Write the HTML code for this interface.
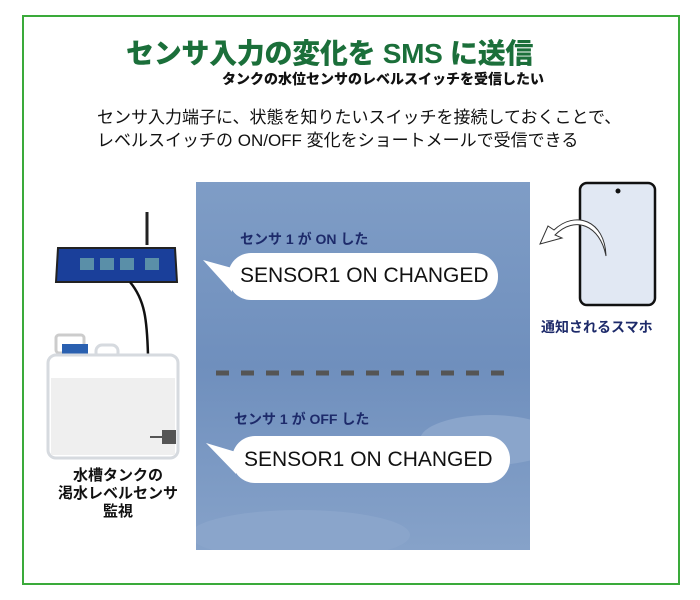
<!DOCTYPE html>
<html><head><meta charset="utf-8"><style>
body{margin:0;width:700px;height:600px;background:#fff;position:relative;overflow:hidden;font-family:"Liberation Sans","Noto Sans CJK JP",sans-serif}
.a{position:absolute;white-space:nowrap}
</style></head><body>
<div class="a" style="left:22px;top:15px;width:654px;height:566px;border:2px solid #3aaa3a"></div>
<div class="a" style="left:126px;top:32px;font-size:28px;font-weight:900;color:#1b6f3a;letter-spacing:-0.3px">センサ入力の変化を SMS に送信</div>
<div class="a" style="left:222px;top:69px;font-size:14px;font-weight:900;color:#111">タンクの水位センサのレベルスイッチを受信したい</div>
<div class="a" style="left:97px;top:106px;font-size:17px;color:#111;line-height:23px">センサ入力端子に、状態を知りたいスイッチを接続しておくことで、<br>レベルスイッチの ON/OFF 変化をショートメールで受信できる</div>
<svg class="a" style="left:0;top:0" width="700" height="600">
<defs><linearGradient id="g" x1="0" y1="0" x2="0" y2="1"><stop offset="0" stop-color="#7f9dc6"/><stop offset="0.5" stop-color="#6f8fbd"/><stop offset="1" stop-color="#86a2c9"/></linearGradient>
<clipPath id="c"><rect x="196" y="182" width="334" height="368"/></clipPath></defs>
<rect x="196" y="182" width="334" height="368" fill="url(#g)"/>
<g clip-path="url(#c)">
<ellipse cx="490" cy="440" rx="70" ry="25" fill="#8aa5cb"/>
<ellipse cx="300" cy="535" rx="110" ry="25" fill="#8aa5cb"/>
</g>
<line x1="216" y1="373" x2="515" y2="373" stroke="#555" stroke-width="5" stroke-dasharray="13,12"/>
<path d="M203 260 L232 268 L232 292 Z" fill="#fff"/>
<rect x="228" y="253" width="270" height="47" rx="23" fill="#fff"/>
<path d="M206 443 L236 452 L236 474 Z" fill="#fff"/>
<rect x="232" y="436" width="278" height="47" rx="23" fill="#fff"/>
<rect x="580" y="183" width="75" height="122" rx="7" fill="#e1e8f3" stroke="#111" stroke-width="2.5"/>
<circle cx="618" cy="191" r="2.5" fill="#111"/>
<path d="M606 256 C600 225 575 215 555 235 L562 238 L540 244 L548 226 L554 230 C575 210 605 220 606 256Z" fill="#fff" stroke="#333" stroke-width="1"/>
<line x1="147" y1="212" x2="147" y2="245" stroke="#222" stroke-width="3"/>
<path d="M58 248 L175 248 L177 282 L56 282Z" fill="#1a3f9a" stroke="#222" stroke-width="2"/>
<rect x="80" y="258" width="14" height="12" fill="#5a8fa8"/><rect x="100" y="258" width="14" height="12" fill="#5a8fa8"/><rect x="120" y="258" width="14" height="12" fill="#5a8fa8"/><rect x="145" y="258" width="14" height="12" fill="#5a8fa8"/>
<path d="M130 282 C145 300 147 320 148 355" fill="none" stroke="#111" stroke-width="2.5"/>
<rect x="56" y="335" width="28" height="18" rx="3" fill="#fff" stroke="#ccc" stroke-width="3"/>
<rect x="96" y="345" width="22" height="14" rx="6" fill="#fff" stroke="#d6dadf" stroke-width="3"/>
<rect x="62" y="344" width="26" height="12" fill="#2a60b0"/>
<rect x="48" y="355" width="130" height="103" rx="8" fill="#fff" stroke="#d6dadf" stroke-width="3"/>
<rect x="51" y="378" width="124" height="77" fill="#efefef"/>
<line x1="150" y1="437" x2="163" y2="437" stroke="#555" stroke-width="2"/>
<rect x="162" y="430" width="14" height="14" fill="#555"/>
</svg>
<div class="a" style="left:240px;top:229px;font-size:14px;font-weight:bold;color:#1d2a6a">センサ 1 が ON した</div>
<div class="a" style="left:240px;top:264px;font-size:21px;color:#111">SENSOR1 ON CHANGED</div>
<div class="a" style="left:234px;top:409px;font-size:14px;font-weight:bold;color:#1d2a6a">センサ 1 が OFF した</div>
<div class="a" style="left:244px;top:448px;font-size:21px;color:#111">SENSOR1 ON CHANGED</div>
<div class="a" style="left:541px;top:317px;font-size:14px;font-weight:bold;color:#1d2a6a">通知されるスマホ</div>
<div class="a" style="left:48px;top:467px;width:140px;text-align:center;font-size:15px;font-weight:bold;color:#111;line-height:18px">水槽タンクの<br>渇水レベルセンサ<br>監視</div>
</body></html>
